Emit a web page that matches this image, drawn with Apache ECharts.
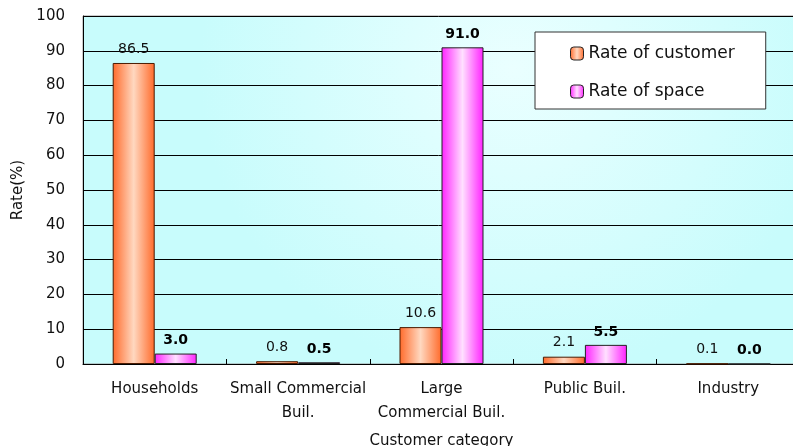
<!DOCTYPE html>
<html><head><meta charset="utf-8">
<script src="https://cdn.jsdelivr.net/npm/echarts@6/dist/echarts.min.js"></script>
<style>html,body{margin:0;padding:0;background:#fff}#c{width:793px;height:446px}</style>
</head><body><div id="c"></div>
<script>
var categories = ['Households', 'Small Commercial\nBuil.', 'Large\nCommercial Buil.', 'Public Buil.', 'Industry'];
var rateCustomer = [86.5, 0.8, 10.6, 2.1, 0.1];
var rateSpace = [3.0, 0.5, 91.0, 5.5, 0.0];
var seriesNames = ['Rate of customer', 'Rate of space'];
var yTicks = {min: 0, max: 100, interval: 10};

var FONT = '"DejaVu Sans", sans-serif';
function grad(edge, mid) {
  return new echarts.graphic.LinearGradient(0, 0, 1, 0, [
    {offset: 0, color: edge}, {offset: 0.5, color: mid}, {offset: 1, color: edge}
  ]);
}
var chart = echarts.init(document.getElementById('c'));
chart.setOption({
  animation: false,
  textStyle: {fontFamily: FONT},
  grid: {left: 83, top: 16, width: 717, height: 348, show: true, borderColor: '#999', borderWidth: 1,
    outerBoundsMode: 'none', containLabel: false,
    backgroundColor: new echarts.graphic.RadialGradient(0.6, 0.15, 0.9, [
      {offset: 0, color: '#eaffff'}, {offset: 1, color: '#c8fcfc'}])},
  legend: {
    left: 535, top: 32, orient: 'vertical', itemGap: 21,
    padding: [13, 31, 9, 35],
    backgroundColor: '#fff', borderColor: '#333', borderWidth: 1,
    itemWidth: 13, itemHeight: 13,
    textStyle: {fontSize: 17, color: '#111', fontFamily: FONT},
    data: [
      {name: seriesNames[0], itemStyle: {borderColor: '#222', borderWidth: 1}},
      {name: seriesNames[1], itemStyle: {borderColor: '#222', borderWidth: 1}}
    ]
  },
  xAxis: {
    type: 'category', data: categories,
    name: 'Customer category', nameLocation: 'middle', nameGap: 70,
    nameTextStyle: {fontSize: 15, color: '#111', fontFamily: FONT},
    axisLine: {lineStyle: {color: '#000', width: 1}},
    axisTick: {show: true, inside: true, length: 5, lineStyle: {color: '#000'}},
    axisLabel: {interval: 0, fontSize: 15, color: '#111', margin: 13, lineHeight: 24, fontFamily: FONT}
  },
  yAxis: {
    type: 'value', min: yTicks.min, max: yTicks.max, interval: yTicks.interval,
    name: 'Rate(%)', nameLocation: 'middle', nameGap: 56, nameRotate: 90,
    nameTextStyle: {fontSize: 15, color: '#111', fontFamily: FONT},
    axisLine: {show: true, lineStyle: {color: '#000', width: 1}},
    axisTick: {show: true, inside: true, length: 5, lineStyle: {color: '#000'}},
    axisLabel: {fontSize: 15, color: '#111', margin: 18, fontFamily: FONT},
    splitLine: {lineStyle: {color: '#000', width: 1}}
  },
  series: [
    {
      name: seriesNames[0], type: 'bar', data: rateCustomer, barWidth: 42, barGap: '0%',
      itemStyle: {color: grad('#ff6a2a', '#ffd8c0'), borderColor: '#4a1a00', borderWidth: 1},
      label: {show: true, position: 'top', distance: 7, fontSize: 14, color: '#111', fontFamily: FONT,
        formatter: function (p) { return p.value.toFixed(1); }}
    },
    {
      name: seriesNames[1], type: 'bar', data: rateSpace, barWidth: 42,
      itemStyle: {color: grad('#ff22ff', '#ffe0ff'), borderColor: '#222', borderWidth: 1},
      label: {show: true, position: 'top', distance: 6, fontSize: 14, fontWeight: 'bold', color: '#000', fontFamily: FONT,
        formatter: function (p) { return p.value.toFixed(1); }}
    }
  ]
});
</script></body></html>
